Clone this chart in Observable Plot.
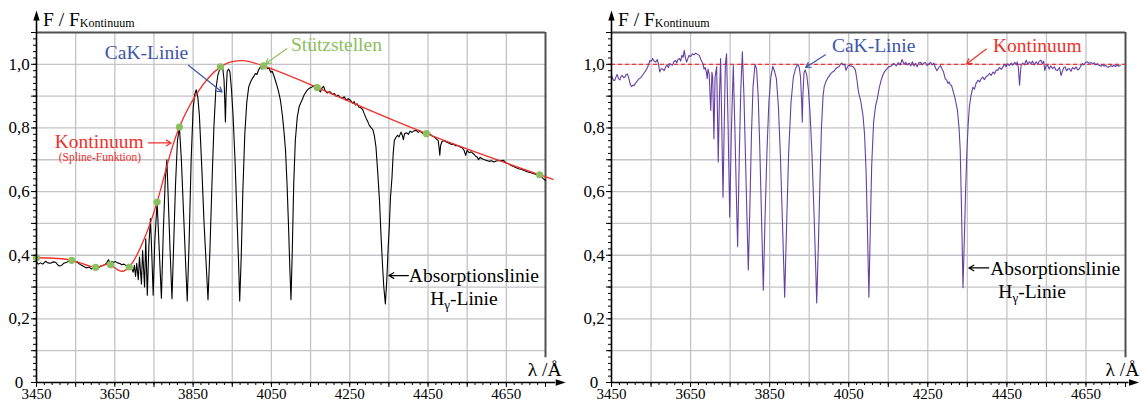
<!DOCTYPE html>
<html><head><meta charset="utf-8">
<script src="https://cdn.jsdelivr.net/npm/d3@7"></script>
<script src="https://cdn.jsdelivr.net/npm/@observablehq/plot@0.6"></script>
<style>
html,body{margin:0;padding:0;background:#fff;}
#wrap{position:relative;width:1141px;height:406px;overflow:hidden;}
#left,#right{position:absolute;top:0;}
#left{left:0;} #right{left:570px;}
svg, svg text{font-family:"Liberation Serif","Times New Roman",serif !important;}
</style></head><body><div id="wrap"><div id="left"></div><div id="right"></div></div>
<script>
// ---------- Data: measured spectrum (left panel) ----------
const specLam = [3450,3455,3460,3466,3473,3479,3486,3492,3499,3504,3508,3514,3520,3527,3533,3539,3546,3554,3560,3566,3572,3578,3584,3590,3596,3602,3608,3614,3620,3626,3630,3634,3638,3642,3647,3652,3657,3663,3668,3673,3678,3682,3686,3690,3693,3695,
3697,3700,3703,3706,3710,3713,3718,3721,3726,3729,3733,3737,3741,3744,3748,3752,3758,3763,3769,3774,3779,3783,3787,3791,3796,3800,3805,3810,3815,3820,3826,3830,3835,3840,3845,3850,3854,3858,3862,3866,3872,3878,3883,3888,3893,3898,3903,3908,3913,3918,3922,3926,3929,3931,3932.5,3934,3937,3941,3944,3948,3952,3957,3962,3966,3969,3973,3977,3982,3987,3992,3997,4001,4005,4009,4013,4017,4022,4026,4030,4034,4037,4040,4044,4048,4052,4056,4060,4065,4069,4073,4078,4082,4086,4090,4094,4097,4100,4103,4107,4111,4116,4121,4128,4134,4141,4147,4154,4160,4167,4171,4175,4179,4183,4187,4192,4197,4201,4206,4211,4215,4220,4226,4231,4236,4241,4246,4252,4257,4261,4265,4269,4273,4278,4283,4287,4292,4296,4300,4305,4309,4313,4317,4321,4326,4330,4334,4337,4341,4345,4348,4351,4354,4358,4361,4364,4368,4372,4376,4381,4384,4387,4390,4395,4400,4404,4409,4414,4420,4425,4430,4436,4441,4446,4451,4456,4461,4466,4471,4476,4478,4480,4482,4486,4492,4498,4504,4510,4515,4520,4526,4532,4537,4542,4546,4550,4555,4560,4566,4571,4576,4579,4583,4588,4594,4600,4606,4612,4618,4624,4630,4636,4643,4649,4655,4661,4668,4674,4681,4687,4694,4700,4707,4713,4720,4727,4733,4740,4745,4750];
const specFlux = [0.378,0.372,0.376,0.372,0.381,0.376,0.375,0.379,0.378,0.370,0.366,0.368,0.375,0.378,0.381,0.386,0.382,0.378,0.372,0.368,0.364,0.360,0.363,0.357,0.360,0.362,0.360,0.366,0.368,0.372,0.378,0.386,0.372,0.380,0.378,0.380,0.376,0.374,0.370,0.372,0.368,0.366,0.363,0.362,0.358,0.352,
0.347,0.368,0.333,0.375,0.323,0.394,0.310,0.415,0.300,0.452,0.274,0.430,0.515,0.420,0.274,0.440,0.567,0.430,0.265,0.480,0.640,0.700,0.560,0.420,0.263,0.420,0.620,0.760,0.803,0.700,0.520,0.400,0.256,0.450,0.700,0.860,0.905,0.920,0.897,0.840,0.680,0.500,0.380,0.260,0.420,0.620,0.800,0.920,0.965,0.985,0.992,0.985,0.950,0.880,0.819,0.900,0.979,0.985,0.976,0.920,0.840,0.700,0.520,0.380,0.256,0.400,0.600,0.780,0.880,0.929,0.945,0.955,0.962,0.971,0.968,0.982,0.992,0.985,0.997,0.990,0.994,0.986,0.990,0.975,0.978,0.965,0.950,0.929,0.910,0.887,0.840,0.790,0.730,0.620,0.480,0.360,0.260,0.400,0.625,0.760,0.834,0.868,0.887,0.905,0.918,0.925,0.929,0.934,0.927,0.920,0.913,0.925,0.931,0.918,0.910,0.914,0.913,0.905,0.908,0.900,0.903,0.897,0.893,0.898,0.888,0.892,0.887,0.878,0.883,0.872,0.876,0.866,0.864,0.858,0.845,0.830,0.820,0.808,0.800,0.795,0.775,0.740,0.670,0.572,0.460,0.363,0.300,0.247,0.330,0.420,0.488,0.580,0.646,0.720,0.761,0.770,0.777,0.772,0.787,0.778,0.763,0.782,0.785,0.780,0.790,0.786,0.791,0.792,0.786,0.790,0.783,0.786,0.782,0.778,0.780,0.774,0.772,0.766,0.760,0.740,0.714,0.745,0.758,0.760,0.755,0.752,0.748,0.750,0.744,0.745,0.740,0.738,0.730,0.714,0.730,0.722,0.725,0.719,0.712,0.708,0.700,0.708,0.703,0.700,0.698,0.695,0.697,0.693,0.696,0.698,0.697,0.698,0.690,0.688,0.683,0.679,0.676,0.672,0.670,0.667,0.664,0.661,0.659,0.656,0.654,0.652,0.645,0.640,0.635];

// Spline support points (Stützstellen)
const knotLam  = [3450,3540,3601,3639,3687,3758,3815,3920,4030,4167,4446,4735];
const knotFlux = [0.392,0.384,0.362,0.370,0.363,0.567,0.803,0.992,0.995,0.927,0.782,0.653];
const edgeLam  = [4750];
const edgeFlux = [0.646];

// ---------- Data: normalised spectrum (right panel) ----------
const normLam = [3450,3455,3458,3462,3464,3468,3471,3474,3477,3481,3484,3487,3490,3494,3498,3501,3504,3507,3511,3516,3520,3524,3528,3532,3537,3541,3544,3547,3551,3554,3558,3562,3566,3569,3572,3575,3579,3583,3587,3590,3594,3597,3600,3604,3608,3612,3615,3618,3622,3625,3628,3631,3634,3637,3640,3643,3646,3650,3655,3659,3663,3667,3672,3676,3679,3682,3684,3687,3690,3692,3694,3697,3701,3704,3706,3709,3712,3716,3720,3723,3726,3729,3732,3735,3738,3741,3745,3749,3753,3758,3762,3766,3769,3773,3777,3781,3785,3789,3793,3796,3800,3804,3808,3813,3817,3821,3825,3829,3834,3838,3843,3848,3853,3858,3863,3867,3872,3877,3882,3888,3893,3898,3904,3910,3915,3921,3925,3928,3931,3932.6,3934,3937,3940,3944,3948,3952,3957,3962,3966,3969,3973,3977,3981,3985,3988,3992,3996,4000,4004,4008,4012,4017,4021,4025,4028,4032,4036,4040,4043,4047,4050,4055,4059,4063,4067,4071,4074,4077,4080,4086,4090,4094,4097,4101,4104,4108,4113,4118,4122,4127,4132,4136,4140,4146,4151,4158,4164,4170,4175,4180,4185,4190,4194,4198,4203,4207,4211,4215,4219,4223,4227,4232,4236,4240,4244,4248,4253,4257,4261,4265,4269,4273,4278,4282,4286,4290,4294,4298,4301,4304,4307,4310,4313,4317,4321,4325,4329,4332,4335,4339,4343,4346,4349,4352,4355,4359,4364,4368,4372,4377,4381,4385,4389,4393,4398,4402,4406,4410,4415,4419,4423,4427,4431,4436,4440,4444,4448,4452,4456,4461,4465,4470,4474,4476,4479,4482,4484,4486,4490,4494,4499,4503,4507,4511,4515,4519,4524,4528,4532,4536,4540,4543,4546,4549,4553,4557,4561,4566,4570,4574,4578,4583,4587,4591,4594,4597,4601,4604,4608,4612,4616,4621,4625,4629,4633,4637,4641,4645,4649,4654,4658,4662,4667,4671,4675,4679,4683,4688,4692,4696,4700,4704,4709,4713,4717,4721,4725,4729,4733,4737];
const normFlux = [0.965,0.950,0.949,0.962,0.968,0.955,0.951,0.962,0.965,0.958,0.960,0.968,0.970,0.955,0.935,0.930,0.935,0.933,0.942,0.949,0.955,0.958,0.965,0.972,0.981,0.990,1.000,1.012,1.010,1.018,1.010,1.007,1.015,1.000,0.976,0.985,0.986,0.980,0.992,0.998,0.990,1.002,1.000,0.997,1.008,1.012,1.005,1.015,1.018,1.010,1.028,1.022,1.044,1.020,1.007,1.018,1.028,1.025,1.033,1.030,1.035,1.032,1.028,1.015,1.007,1.000,0.985,0.990,0.975,0.955,0.985,0.970,0.855,0.975,0.960,0.766,0.960,0.993,0.693,0.900,1.018,0.800,0.582,0.800,1.000,1.033,0.800,0.520,0.780,0.997,0.800,0.580,0.427,0.700,0.920,1.039,0.900,0.700,0.500,0.354,0.550,0.780,0.930,1.000,0.985,0.900,0.740,0.540,0.290,0.500,0.720,0.880,0.960,0.994,0.975,0.955,0.870,0.720,0.520,0.268,0.500,0.720,0.880,0.960,0.985,1.000,0.990,0.960,0.880,0.818,0.900,0.975,0.982,0.965,0.920,0.850,0.720,0.540,0.380,0.250,0.420,0.620,0.800,0.900,0.930,0.945,0.955,0.962,0.970,0.975,0.978,0.986,0.990,0.992,0.998,1.004,0.998,1.000,0.981,0.992,0.997,0.995,0.994,0.990,0.981,0.950,0.918,0.900,0.887,0.840,0.780,0.660,0.500,0.268,0.450,0.680,0.820,0.870,0.890,0.925,0.950,0.965,0.976,0.985,0.992,0.995,1.003,0.995,1.005,0.998,1.015,1.000,1.006,0.998,1.004,0.995,1.008,0.995,1.003,0.992,1.005,1.006,0.998,1.004,1.006,0.996,1.002,1.006,0.998,1.004,0.990,0.980,0.990,0.996,0.985,0.975,0.955,0.950,0.940,0.945,0.935,0.934,0.920,0.903,0.880,0.855,0.800,0.730,0.560,0.298,0.480,0.620,0.730,0.810,0.865,0.900,0.928,0.922,0.940,0.950,0.945,0.955,0.960,0.952,0.962,0.965,0.972,0.965,0.976,0.970,0.982,0.981,0.990,0.984,0.992,1.000,0.992,1.002,0.996,1.004,0.997,1.006,0.998,1.008,0.990,0.934,0.970,0.997,1.004,0.998,1.013,1.000,1.008,1.002,1.010,0.998,1.008,1.000,1.010,1.013,1.002,1.010,0.981,0.995,0.997,0.985,0.995,0.986,0.992,0.982,0.981,0.990,0.965,0.980,0.990,0.992,0.980,0.985,0.986,0.978,0.990,0.985,0.992,0.982,0.986,0.995,1.002,0.998,1.006,1.008,1.003,1.006,1.002,1.005,0.998,1.002,0.997,0.994,0.999,0.994,0.997,0.991,0.992,0.996,0.993,0.997,0.993,0.998,0.994,0.996];
const normContinuum = [1];

// ---------- Axes ----------
const xDomain = [3450, 4750];
const yDomain = [0, 1.1];
const xLabelTicks = [3450, 3650, 3850, 4050, 4250, 4450, 4650];
const xTickLabels = ["3450", "3650", "3850", "4050", "4250", "4450", "4650"];
const xGrid = [3550, 3650, 3750, 3850, 3950, 4050, 4150, 4250, 4350, 4450, 4550, 4650];
const yLabelTicks = [0, 0.2, 0.4, 0.6, 0.8, 1.0];
const yTickLabels = ["0", "0,2", "0,4", "0,6", "0,8", "1,0"];
const yGrid = [0.1, 0.2, 0.3, 0.4, 0.5, 0.6, 0.7, 0.8, 0.9, 1.0];
const xMinor = d3.range(3450, 4751, 20);
const xMajor = d3.range(3450, 4751, 100);
const yMinor = d3.range(0, 1.1001, 0.02);
const yMajor = d3.range(0, 1.1001, 0.1);

// ---------- Annotations ----------
const BLUE = "#3d56a8", RED = "#f0302a", GREEN = "#8cbf5f", PURPLE = "#6540a3";
const FONT = "Liberation Serif";
const leftNotes = [
  {x: 3731, y: 1.035, text: "CaK-Linie", fill: BLUE, size: 19.5, anchor: "middle"},
  {x: 3610, y: 0.758, text: "Kontinuum", fill: RED, size: 19.5, anchor: "middle"},
  {x: 3612, y: 0.709, text: "(Spline-Funktion)", fill: RED, size: 11.5, anchor: "middle"},
  {x: 4216, y: 1.060, text: "Stützstellen", fill: GREEN, size: 19.5, anchor: "middle"},
  {x: 4401, y: 0.337, text: "Absorptionslinie", fill: "black", size: 19.5, anchor: "start"},
  {x: 4748, y: 0.040, text: "λ /Å", fill: "black", size: 19.5, anchor: "middle"}
];
const leftArrows = [
  {x1: 3838, y1: 0.997, x2: 3924, y2: 0.913, stroke: BLUE},
  {x1: 3736, y1: 0.753, x2: 3794, y2: 0.753, stroke: RED},
  {x1: 4089, y1: 1.049, x2: 4035, y2: 1.002, stroke: GREEN},
  {x1: 4400, y1: 0.336, x2: 4350, y2: 0.336, stroke: "black"}
];
const leftHg = {x: 4543, y: 0.264};
const rightNotes = [
  {x: 4113, y: 1.057, text: "CaK-Linie", fill: BLUE, size: 19.5, anchor: "middle"},
  {x: 4527, y: 1.057, text: "Kontinuum", fill: RED, size: 19.5, anchor: "middle"},
  {x: 4408, y: 0.358, text: "Absorptionslinie", fill: "black", size: 19.5, anchor: "start"},
  {x: 4742, y: 0.040, text: "λ /Å", fill: "black", size: 19.5, anchor: "middle"}
];
const rightArrows = [
  {x1: 3991, y1: 1.030, x2: 3941, y2: 0.990, stroke: BLUE},
  {x1: 4398, y1: 1.048, x2: 4348, y2: 1.001, stroke: RED},
  {x1: 4404, y1: 0.360, x2: 4354, y2: 0.360, stroke: "black"}
];
const rightHg = {x: 4515, y: 0.283};

// ---------- helpers ----------
const headUp = {draw(ctx) { ctx.moveTo(0, -10); ctx.lineTo(3.2, 0); ctx.lineTo(-3.2, 0); ctx.closePath(); }};
const zip = (a, b) => a.map((v, i) => ({x: v, y: b[i]}));

function frameMarks() {
  return [
    Plot.ruleX(xGrid, {stroke: "#c4c4c8", strokeWidth: 1.3}),
    Plot.ruleY(yGrid, {stroke: "#c4c4c8", strokeWidth: 1.3}),
    Plot.ruleY([1.1], {x1: 3450, x2: 4750, stroke: "#505050", strokeWidth: 2}),
    Plot.ruleX([4750], {y1: 0.078, y2: 1.1, stroke: "#505050", strokeWidth: 2})
  ];
}
function axisMarks(xArrowEnd) {
  return [
    Plot.axisX(xMinor, {anchor: "bottom", tickSize: 3, tickFormat: () => "", label: null, strokeWidth: 1}),
    Plot.axisX(xMajor, {anchor: "bottom", tickSize: 5, tickFormat: () => "", label: null, strokeWidth: 1}),
    Plot.axisY(yMinor, {anchor: "left", tickSize: 3, tickFormat: () => "", label: null, strokeWidth: 1}),
    Plot.axisY(yMajor, {anchor: "left", tickSize: 5, tickFormat: () => "", label: null, strokeWidth: 1}),
    Plot.ruleX([3450], {y1: 0, y2: 1.138, stroke: "black", strokeWidth: 1.6}),
    Plot.ruleY([0], {x1: 3450, x2: xArrowEnd, stroke: "black", strokeWidth: 1.6}),
    Plot.dot([{x: 3450, y: 1.138}], {x: "x", y: "y", symbol: headUp, fill: "black", stroke: null}),
    Plot.dot([{x: xArrowEnd, y: 0}], {x: "x", y: "y", symbol: headUp, rotate: 90, fill: "black", stroke: null}),
    Plot.text(xLabelTicks, {x: d => d, text: d => xTickLabels[xLabelTicks.indexOf(d)], frameAnchor: "bottom", lineAnchor: "top", dy: 6, fontSize: 15, fontFamily: FONT, fill: "black"}),
    Plot.text(yLabelTicks, {y: d => d, text: d => yTickLabels[yLabelTicks.indexOf(d)], frameAnchor: "left", dx: -17.5, textAnchor: "middle", fontSize: 17, fontFamily: FONT, fill: "black"})
  ];
}
function noteMarks(notes, arrows) {
  return [
    Plot.arrow(arrows, {x1: "x1", y1: "y1", x2: "x2", y2: "y2", stroke: "stroke", strokeWidth: 1.2, headLength: 7}),
    ...notes.map(n => Plot.text([n], {x: "x", y: "y", text: "text", fill: n.fill, fontSize: n.size, fontFamily: FONT, textAnchor: n.anchor}))
  ];
}
function addRichText(plot, hg) {
  const svg = d3.select(plot);
  const sx = plot.scale("x"), sy = plot.scale("y");
  const t = svg.append("text").attr("x", sx.apply(3450) + 7).attr("y", sy.apply(1.1) - 6)
    .attr("text-anchor", "start")
    .attr("font-family", FONT).attr("font-size", 19.5).attr("fill", "black");
  t.append("tspan").text("F / F");
  t.append("tspan").attr("font-size", 12).attr("dy", 1).text("Kontinuum");
  const h = svg.append("text").attr("x", sx.apply(hg.x)).attr("y", sy.apply(hg.y) + 6.5)
    .attr("text-anchor", "middle").attr("font-family", FONT).attr("font-size", 19.5).attr("fill", "black");
  h.append("tspan").text("H");
  h.append("tspan").attr("font-size", 13).attr("dy", 4).text("γ");
  h.append("tspan").attr("dy", -4).text("-Linie");
}

const common = {
  height: 406, marginTop: 32, marginBottom: 24,
  x: {domain: xDomain, label: null}, y: {domain: yDomain, label: null},
  color: {type: "identity"},
  style: {fontFamily: FONT, background: "white", overflow: "visible"}
};

const left = Plot.plot({
  ...common, width: 570, marginLeft: 36, marginRight: 25,
  marks: [
    ...frameMarks(),
    Plot.line(zip(specLam, specFlux), {x: "x", y: "y", stroke: "black", strokeWidth: 1.1}),
    Plot.line(zip(knotLam.concat(edgeLam), knotFlux.concat(edgeFlux)), {x: "x", y: "y", curve: "natural", stroke: RED, strokeWidth: 1.3}),
    Plot.dot(zip(knotLam, knotFlux), {x: "x", y: "y", r: 3.6, fill: GREEN, stroke: null}),
    ...axisMarks(4776),
    ...noteMarks(leftNotes, leftArrows)
  ]
});
addRichText(left, leftHg);
document.getElementById("left").appendChild(left);

const right = Plot.plot({
  ...common, width: 571, marginLeft: 41, marginRight: 16,
  marks: [
    ...frameMarks(),
    Plot.ruleY(normContinuum, {stroke: "#ff3030", strokeWidth: 1.3, strokeDasharray: "4,3"}),
    Plot.line(zip(normLam, normFlux), {x: "x", y: "y", stroke: PURPLE, strokeWidth: 1.1}),
    ...axisMarks(4759),
    ...noteMarks(rightNotes, rightArrows)
  ]
});
addRichText(right, rightHg);
document.getElementById("right").appendChild(right);
</script></body></html>
